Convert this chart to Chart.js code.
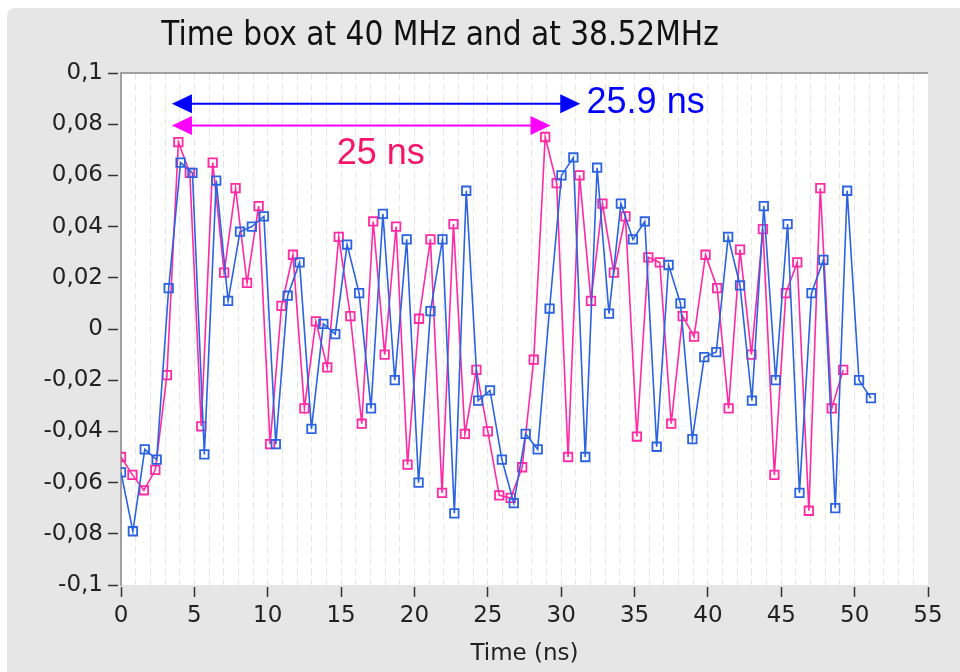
<!DOCTYPE html>
<html>
<head>
<meta charset="utf-8">
<title>Time box at 40 MHz and at 38.52MHz</title>
<script src="https://cdn.jsdelivr.net/npm/chart.js@4.4.1/dist/chart.umd.min.js"></script>
<style>
  html, body { margin: 0; padding: 0; background: #ffffff; }
  canvas { display: block; }
</style>
</head>
<body>
<canvas id="timebox" width="960" height="672"></canvas>
<script>
// sample times (ns) and amplitudes
var pink_time = [0, 0.78, 1.56, 2.34, 3.13, 3.91, 4.69, 5.47, 6.25, 7.03,
		 7.81, 8.59, 9.38, 10.16, 10.94, 11.72, 12.5, 13.28, 14.06, 14.84,
		 15.63, 16.41, 17.19, 17.97, 18.75, 19.53, 20.31, 21.09, 21.88, 22.66,
		 23.44, 24.22, 25, 25.78, 26.56, 27.34, 28.13, 28.91, 29.69, 30.47,
		 31.25, 32.03, 32.81, 33.59, 34.38, 35.16, 35.94, 36.72, 37.5, 38.28,
		 39.06, 39.84, 40.63, 41.41, 42.19, 42.97, 43.75, 44.53, 45.31, 46.09,
		 46.88, 47.66, 48.44, 49.22];
var pink_amp = [-0.050, -0.057, -0.063, -0.055, -0.018, 0.073, 0.061, -0.038, 0.065, 0.022,
		0.055, 0.018, 0.048, -0.045, 0.009, 0.029, -0.031, 0.003, -0.015, 0.036,
		0.005, -0.037, 0.042, -0.010, 0.040, -0.053, 0.004, 0.035, -0.064, 0.041,
		-0.041, -0.016, -0.040, -0.065, -0.066, -0.054, -0.012, 0.075, 0.057, -0.050,
		0.060, 0.011, 0.049, 0.022, 0.044, -0.042, 0.028, 0.026, -0.037, 0.005,
		-0.003, 0.029, 0.016, -0.031, 0.031, -0.010, 0.039, -0.057, 0.014, 0.026,
		-0.071, 0.055, -0.031, -0.016];

var blue_time = [0, 0.81, 1.62, 2.43, 3.25, 4.06, 4.87, 5.68, 6.49, 7.30,
		 8.11, 8.92, 9.74, 10.55, 11.36, 12.17, 12.98, 13.79, 14.60, 15.41,
		 16.23, 17.04, 17.85, 18.66, 19.47, 20.28, 21.09, 21.91, 22.72, 23.53,
		 24.34, 25.15, 25.96, 26.77, 27.58, 28.40, 29.21, 30.02, 30.83, 31.64,
		 32.45, 33.26, 34.07, 34.89, 35.70, 36.51, 37.32, 38.13, 38.94, 39.75,
		 40.57, 41.38, 42.19, 43.00, 43.81, 44.62, 45.43, 46.24, 47.06, 47.87,
		 48.68, 49.49, 50.30, 51.11];
var blue_amp = [-0.056, -0.079, -0.047, -0.051, 0.016, 0.065, 0.061, -0.049, 0.058, 0.011,
		0.038, 0.040, 0.044, -0.045, 0.013, 0.026, -0.039, 0.002, -0.002, 0.033,
		0.014, -0.031, 0.045, -0.020, 0.035, -0.060, 0.007, 0.035, -0.072, 0.054,
		-0.028, -0.024, -0.051, -0.068, -0.041, -0.047, 0.008, 0.060, 0.067, -0.050,
		0.063, 0.006, 0.049, 0.035, 0.042, -0.046, 0.025, 0.010, -0.043, -0.011,
		-0.009, 0.036, 0.017, -0.028, 0.048, -0.020, 0.041, -0.064, 0.014, 0.027,
		-0.070, 0.054, -0.020, -0.027];

// axis ranges
var x_min = 0, x_max = 55, x_label_every = 5;
var y_min = -0.1, y_max = 0.1, y_step = 0.02;

// period markers: arrows spanning one period, in data units
var span_from = [3.47, 3.47];
var span_to = [31.3, 29.27];
var span_level = [0.088, 0.0795];
var span_text = ["25.9 ns", "25 ns"];
var span_text_t = [31.73, 14.7];
var span_text_level = [0.0883, 0.0682];

var title_text = "Time box at 40 MHz and at 38.52MHz";

function to_points(xs, ys)
{
    var pts = [];
    for (let i = 0; i < xs.length; i++)
	pts.push({ x: xs[i], y: ys[i] });
    return pts;
}

function fmt_comma(v)
{
    var r = Math.round(v * 100) / 100;
    return String(r).replace(".", ",");
}

function draw_arrow(ctx, x1, x2, y, color)
{
    var head = 20, half = 9.5;

    ctx.strokeStyle = color;
    ctx.fillStyle = color;
    ctx.lineWidth = 2;
    ctx.beginPath();
    ctx.moveTo(x1 + head - 2, y);
    ctx.lineTo(x2 - head + 2, y);
    ctx.stroke();

    ctx.beginPath();
    ctx.moveTo(x1, y);
    ctx.lineTo(x1 + head, y - half);
    ctx.lineTo(x1 + head, y + half);
    ctx.closePath();
    ctx.fill();

    ctx.beginPath();
    ctx.moveTo(x2, y);
    ctx.lineTo(x2 - head, y - half);
    ctx.lineTo(x2 - head, y + half);
    ctx.closePath();
    ctx.fill();
}

var panel_plugin = {
    id: "panel",
    beforeDraw: function(chart) {
	var ctx = chart.ctx, a = chart.chartArea;

	ctx.save();
	ctx.fillStyle = "#ffffff";
	ctx.fillRect(0, 0, chart.width, chart.height);
	// grey LabVIEW-ish panel
	ctx.fillStyle = "#e6e6e6";
	ctx.beginPath();
	if (ctx.roundRect)
	    ctx.roundRect(7, 8, chart.width, chart.height, [8, 0, 0, 0]);
	else
	    ctx.rect(7, 8, chart.width, chart.height);
	ctx.fill();
	// white plot area
	ctx.fillStyle = "#ffffff";
	ctx.fillRect(a.left, a.top, a.right - a.left, a.bottom - a.top);
	ctx.restore();
    },
    afterDraw: function(chart) {
	var ctx = chart.ctx, a = chart.chartArea;
	var xs = chart.scales.x, ys = chart.scales.y;

	ctx.save();
	// top frame line of plot
	ctx.strokeStyle = "#a0a0a0";
	ctx.lineWidth = 2;
	ctx.beginPath();
	ctx.moveTo(a.left - 1, a.top);
	ctx.lineTo(a.right, a.top);
	ctx.stroke();

	// title
	ctx.fillStyle = "#111111";
	ctx.font = '33px "DejaVu Sans Condensed", "DejaVu Sans"';
	ctx.textAlign = "center";
	ctx.textBaseline = "alphabetic";
	ctx.fillText(title_text, 440, 45);

	// period arrows
	var arrow_colors = ["#0000ff", "#ff00ff"];
	var text_colors = ["#0000ff", "#f5156b"];
	for (let i = 0; i < span_from.length; i++) {
	    draw_arrow(ctx, xs.getPixelForValue(span_from[i]),
		       xs.getPixelForValue(span_to[i]),
		       ys.getPixelForValue(span_level[i]), arrow_colors[i]);
	}
	ctx.font = '36px "Liberation Sans", Arial';
	ctx.textAlign = "left";
	ctx.textBaseline = "middle";
	for (let i = 0; i < span_text.length; i++) {
	    ctx.fillStyle = text_colors[i];
	    ctx.fillText(span_text[i], xs.getPixelForValue(span_text_t[i]),
			 ys.getPixelForValue(span_text_level[i]));
	}
	ctx.restore();
    }
};

var tick_font = { family: '"DejaVu Sans"', size: 23 };

new Chart(document.getElementById("timebox"), {
    type: "line",
    data: {
	datasets: [{
	    label: "38.52 MHz",
	    data: to_points(blue_time, blue_amp),
	    borderColor: "#2b63e0",
	    backgroundColor: "rgba(0,0,0,0)",
	    borderWidth: 1.6,
	    tension: 0,
	    pointStyle: "rect",
	    pointRadius: 6,
	    pointBorderWidth: 1.8,
	    pointBorderColor: "#2b63e0",
	    pointBackgroundColor: "rgba(0,0,0,0)"
	}, {
	    label: "40 MHz",
	    data: to_points(pink_time, pink_amp),
	    borderColor: "#ff2aa4",
	    backgroundColor: "rgba(0,0,0,0)",
	    borderWidth: 1.6,
	    tension: 0,
	    pointStyle: "rect",
	    pointRadius: 6,
	    pointBorderWidth: 1.8,
	    pointBorderColor: "#ff2aa4",
	    pointBackgroundColor: "rgba(0,0,0,0)"
	}]
    },
    options: {
	responsive: false,
	animation: false,
	layout: {
	    padding: { top: 73, right: 32, bottom: 0, left: 0 }
	},
	plugins: {
	    legend: { display: false },
	    tooltip: { enabled: false }
	},
	scales: {
	    x: {
		type: "linear",
		min: x_min,
		max: x_max,
		afterFit: function(s) { s.height = 87; },
		border: { display: false, dash: [7, 4] },
		grid: {
		    color: "#e6e6e6",
		    lineWidth: 1,
		    tickLength: 13,
		    tickWidth: 1.5,
		    tickBorderDash: [0, 2, 10, 100],
		    tickColor: function(c) {
			return c.tick && c.tick.value % x_label_every == 0 ? "#333333" : "rgba(0,0,0,0)";
		    }
		},
		ticks: {
		    stepSize: 1,
		    autoSkip: false,
		    maxRotation: 0,
		    padding: 4,
		    color: "#222222",
		    font: tick_font,
		    callback: function(v) {
			return v % x_label_every == 0 ? String(v) : "";
		    }
		},
		title: {
		    display: true,
		    text: "Time (ns)",
		    color: "#222222",
		    font: tick_font,
		    padding: { top: 0, bottom: 4 }
		}
	    },
	    y: {
		min: y_min,
		max: y_max,
		afterFit: function(s) { s.width = 121; },
		border: { display: true, color: "#a0a0a0", width: 2 },
		grid: {
		    drawOnChartArea: false,
		    tickLength: 13,
		    tickWidth: 1.5,
		    tickColor: "#333333",
		    tickBorderDash: [10, 100]
		},
		ticks: {
		    stepSize: y_step,
		    padding: 5,
		    color: "#222222",
		    font: tick_font,
		    callback: function(v) { return fmt_comma(v); }
		}
	    }
	}
    },
    plugins: [panel_plugin]
});
</script>
</body>
</html>
